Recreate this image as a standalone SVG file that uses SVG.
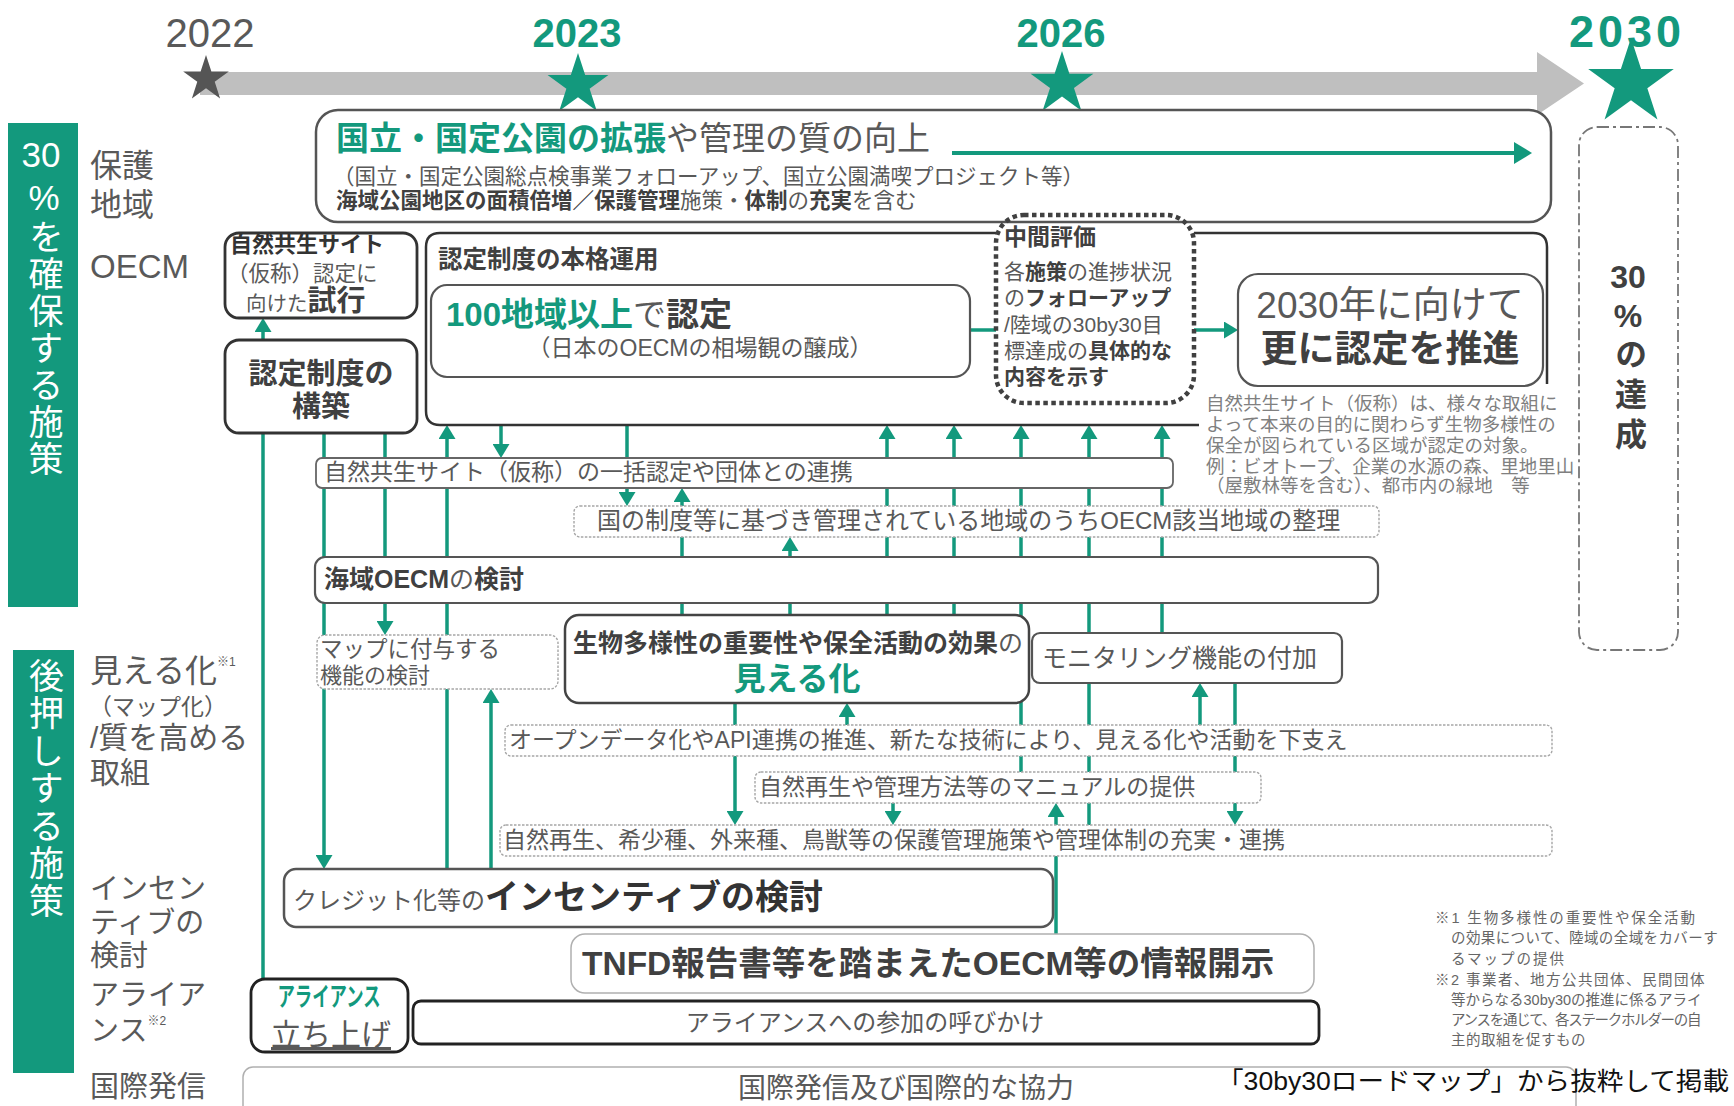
<svg xmlns="http://www.w3.org/2000/svg" width="1734" height="1106" viewBox="0 0 1734 1106">
<defs>
<style>
text{font-family:"Liberation Sans","Noto Sans CJK JP",sans-serif;fill:#595959}
.b{font-weight:700;fill:#404040}
.gr{font-weight:700;fill:#13997d}
.wt{fill:#fff;font-size:35px}
.vt{writing-mode:vertical-rl}
.bx{fill:#fff;stroke:#555;stroke-width:2.2}
.bxk{fill:#fff;stroke:#333;stroke-width:2.8}
.bxl{fill:#fff;stroke:#a6a6a6;stroke-width:1.4;stroke-dasharray:2.5 1.5}
.cn{fill:none;stroke:#13997d;stroke-width:3.5}
.ar{marker-end:url(#ah)}
.lb{font-size:29px}
.note{font-size:18.5px;fill:#808080}
.fn{font-size:14.5px;fill:#666}
.yr{text-anchor:middle}
</style>
<marker id="ah" viewBox="0 0 14 17" refX="10" refY="8.5" markerWidth="14" markerHeight="17" markerUnits="userSpaceOnUse" orient="auto"><path d="M0,0 L14,8.5 L0,17 Z" fill="#13997d"/></marker>
<marker id="ah2" viewBox="0 0 18 22" refX="14" refY="11" markerWidth="18" markerHeight="22" markerUnits="userSpaceOnUse" orient="auto"><path d="M0,0 L18,11 L0,22 Z" fill="#13997d"/></marker>
<path id="star" d="M0,-100 L22.45,-30.9 L95.1,-30.9 L36.3,11.8 L58.8,80.9 L0,38.2 L-58.8,80.9 L-36.3,11.8 L-95.1,-30.9 L-22.45,-30.9 Z"/>
</defs>
<rect width="1734" height="1106" fill="#fff"/>

<g id="timeline">
<path d="M200,72 H1537 V52 L1584,83.5 L1537,115 V95 H200 Z" fill="#bfbfbf"/>
<text class="yr" x="210" y="47" font-size="40">2022</text>
<text class="yr gr" x="577" y="47" font-size="40">2023</text>
<text class="yr gr" x="1061" y="47" font-size="40">2026</text>
<text class="yr gr" x="1627" y="47" font-size="45" letter-spacing="4">2030</text>
<use href="#star" transform="translate(206,79) scale(0.24)" fill="#555"/>
<use href="#star" transform="translate(578,85) scale(0.32)" fill="#13997d"/>
<use href="#star" transform="translate(1062,84) scale(0.33)" fill="#13997d"/>
<use href="#star" transform="translate(1631,83) scale(0.45)" fill="#13997d"/>
</g>

<g id="section-secure">
<rect x="8" y="123" width="70" height="484" fill="#13997d"/>
<text class="wt yr" x="41" y="167" font-size="34">30</text>
<text class="wt yr" x="44" y="210" font-size="34">%</text>
<text class="wt vt" x="43" y="219" letter-spacing="2">を確保する施策</text>
</g>
<g id="section-support">
<rect x="13" y="650" width="61" height="423" fill="#13997d"/>
<text class="wt vt" x="43.5" y="658" letter-spacing="2.5">後押しする施策</text>
</g>

<g id="row-labels">
<text font-size="32"><tspan x="90" y="177">保護</tspan><tspan x="90" y="216">地域</tspan></text>
<text x="90" y="278" font-size="33">OECM</text>
<text font-size="30"><tspan x="90" y="682" font-size="32">見える化</tspan><tspan font-size="12" dy="-16">※1</tspan><tspan x="89" y="715" font-size="23">（マップ化）</tspan><tspan x="90" y="748">/質を高める</tspan><tspan x="90" y="783">取組</tspan></text>
<text class="lb"><tspan x="90" y="899">インセン</tspan><tspan x="90" y="933">ティブの</tspan><tspan x="90" y="966">検討</tspan></text>
<text class="lb"><tspan x="90" y="1005">アライア</tspan><tspan x="90" y="1041">ンス</tspan><tspan font-size="12" dy="-16">※2</tspan></text>
<text class="lb" x="90" y="1097">国際発信</text>
</g>

<g id="connectors">
<path class="cn" d="M263,433 V979"/>
<path class="cn ar" d="M263,340 V322"/>
<path class="cn ar" d="M324,433 V865"/>
<path class="cn ar" d="M385,433 V631"/>
<path class="cn ar" d="M447,869 V429"/>
<path class="cn ar" d="M491,869 V693"/>
<path class="cn ar" d="M501,425 V454"/>
<path class="cn ar" d="M627,425 V502"/>
<path class="cn ar" d="M682,615 V492"/>
<path class="cn ar" d="M790,615 V541"/>
<path class="cn ar" d="M887,615 V429"/>
<path class="cn ar" d="M954,615 V429"/>
<path class="cn ar" d="M1021,772 V429"/>
<path class="cn ar" d="M1089,825 V429"/>
<path class="cn ar" d="M1162,633 V429"/>
<path class="cn ar" d="M1200,725 V687"/>
<path class="cn ar" d="M1235,683 V821"/>
<path class="cn ar" d="M735,703 V821"/>
<path class="cn ar" d="M847,725 V707"/>
<path class="cn ar" d="M893,803 V821"/>
<path class="cn ar" d="M1056,934 V807"/>
<path class="cn" d="M970,330 H996"/>
<path class="cn ar" d="M1194,330 H1234"/>
</g>

<g id="n-protected">
<rect x="316" y="110" width="1235" height="112" rx="22" fill="#fff" stroke="#555" stroke-width="2.5"/>
<path d="M952,153 H1528" stroke="#13997d" stroke-width="4" fill="none" marker-end="url(#ah2)"/>
<text font-size="21.5"><tspan x="336" y="150" font-size="33"><tspan class="gr">国立・国定公園の拡張</tspan>や管理の質の向上</tspan><tspan x="333" y="184">（国立・国定公園総点検事業フォローアップ、国立公園満喫プロジェクト等）</tspan><tspan x="336" y="208"><tspan class="b">海域公園地区の面積倍増／保護管理</tspan>施策・<tspan class="b">体制</tspan>の<tspan class="b">充実</tspan>を含む</tspan></text>
</g>

<g id="n-target30">
<rect x="1579" y="127" width="99" height="523" rx="18" fill="none" stroke="#777" stroke-width="1.8" stroke-dasharray="12 4 3 4"/>
<text class="b yr" x="1628" y="288" font-size="32">30</text>
<text class="b yr" x="1628" y="327" font-size="32">%</text>
<text class="b vt" x="1628" y="338" font-size="32" letter-spacing="8">の達成</text>
</g>

<g id="n-trial">
<rect class="bxk" x="225" y="233" width="192" height="85" rx="14"/>
<text><tspan x="230" y="252" font-size="22" class="b" style="fill:#333">自然共生サイト</tspan><tspan x="227" y="281" font-size="21.5">（仮称）認定に</tspan><tspan x="246" y="311" font-size="20.5">向けた<tspan class="b" font-size="29">試行</tspan></tspan></text>
</g>

<g id="n-build">
<rect class="bxk" x="225" y="340" width="192" height="93" rx="14"/>
<text class="b yr" font-size="29"><tspan x="321" y="384">認定制度の</tspan><tspan x="321" y="417">構築</tspan></text>
</g>

<g id="n-oecm">
<path d="M1199,425 H440 Q426,425 426,411 V247 Q426,233 440,233 H996 M1194,233 H1533 Q1547,233 1547,247 V384" fill="none" stroke="#333" stroke-width="2.5"/>
<text class="b" x="438" y="268" font-size="24.5">認定制度の本格運用</text>
</g>

<g id="n-100">
<rect class="bx" x="431" y="285" width="539" height="92" rx="16"/>
<text><tspan x="446" y="326" font-size="33"><tspan class="gr">100地域以上</tspan>で<tspan class="b">認定</tspan></tspan><tspan x="700" y="356" font-size="23" text-anchor="middle">（日本のOECMの相場観の醸成）</tspan></text>
</g>

<g id="n-midterm">
<rect x="996" y="215" width="198" height="188" rx="28" fill="none" stroke="#404040" stroke-width="4.5" stroke-dasharray="4.5 3.5"/>
<text font-size="21"><tspan x="1004" y="245" class="b" font-size="23">中間評価</tspan><tspan x="1004" y="279">各<tspan class="b">施策</tspan>の進捗状況</tspan><tspan x="1004" y="305">の<tspan class="b">フォローアップ</tspan></tspan><tspan x="1004" y="332">/陸域の30by30目</tspan><tspan x="1004" y="358">標達成の<tspan class="b">具体的な</tspan></tspan><tspan x="1004" y="384" class="b">内容を示す</tspan></text>
</g>

<g id="n-2030">
<rect class="bx" x="1238" y="274" width="305" height="112" rx="20"/>
<text class="yr" font-size="37"><tspan x="1390" y="318">2030年に向けて</tspan><tspan x="1390" y="362" class="b">更に認定を推進</tspan></text>
</g>

<g id="n-note">
<text class="note"><tspan x="1206" y="410">自然共生サイト（仮称）は、様々な取組に</tspan><tspan x="1206" y="431">よって本来の目的に関わらず生物多様性の</tspan><tspan x="1206" y="452">保全が図られている区域が認定の対象。</tspan><tspan x="1206" y="473">例：ビオトープ、企業の水源の森、里地里山</tspan><tspan x="1206" y="492">（屋敷林等を含む）、都市内の緑地　等</tspan></text>
</g>

<g id="n-bulk">
<rect x="316" y="458" width="857" height="30" rx="6" fill="#fff" stroke="#666" stroke-width="1.8"/>
<text x="324" y="480" font-size="23">自然共生サイト（仮称）の一括認定や団体との連携</text>
</g>

<g id="n-national">
<rect class="bxl" x="574" y="506" width="805" height="31" rx="6"/>
<text x="597" y="529" font-size="24">国の制度等に基づき管理されている地域のうちOECM該当地域の整理</text>
</g>

<g id="n-marine">
<rect class="bx" x="315" y="557" width="1063" height="46" rx="10"/>
<text x="324" y="588" font-size="25"><tspan class="b">海域OECM</tspan>の<tspan class="b">検討</tspan></text>
</g>

<g id="n-mapfunc">
<rect class="bxl" x="317" y="635" width="241" height="54" rx="8"/>
<text><tspan x="320" y="657" font-size="22.5">マップに付与する</tspan><tspan x="320" y="683" font-size="22">機能の検討</tspan></text>
</g>

<g id="n-visual">
<rect x="565" y="615" width="464" height="88" rx="14" fill="#fff" stroke="#444" stroke-width="2.5"/>
<text><tspan x="573" y="652" font-size="25"><tspan class="b">生物多様性の重要性や保全活動の効果</tspan>の</tspan><tspan class="gr" x="797" y="690" font-size="32" text-anchor="middle">見える化</tspan></text>
</g>

<g id="n-monitor">
<rect class="bx" x="1032" y="633" width="310" height="50" rx="8"/>
<text x="1042" y="667" font-size="25">モニタリング機能の付加</text>
</g>

<g id="n-opendata">
<rect class="bxl" x="505" y="725" width="1047" height="31" rx="6"/>
<text x="509" y="748" font-size="23">オープンデータ化やAPI連携の推進、新たな技術により、見える化や活動を下支え</text>
</g>

<g id="n-manual">
<rect class="bxl" x="755" y="772" width="506" height="31" rx="6"/>
<text x="759" y="795" font-size="23">自然再生や管理方法等のマニュアルの提供</text>
</g>

<g id="n-conservation">
<rect class="bxl" x="500" y="825" width="1052" height="31" rx="6"/>
<text x="503" y="848" font-size="23">自然再生、希少種、外来種、鳥獣等の保護管理施策や管理体制の充実・連携</text>
</g>

<g id="n-credit">
<rect x="284" y="869" width="769" height="58" rx="12" fill="#fff" stroke="#555" stroke-width="2.5"/>
<text x="293" y="909" font-size="24">クレジット化等の<tspan class="b" font-size="34" style="fill:#333">インセンティブの検討</tspan></text>
</g>

<g id="n-tnfd">
<rect x="571" y="934" width="743" height="59" rx="14" fill="#fff" stroke="#b0b0b0" stroke-width="1.5"/>
<text class="b" x="582" y="975" font-size="33.5">TNFD報告書等を踏まえたOECM等の情報開示</text>
</g>

<g id="n-alliance">
<rect x="251" y="979" width="157" height="73" rx="14" fill="#fff" stroke="#222" stroke-width="2.8"/>
<text class="yr"><tspan class="gr" x="329" y="1006" font-size="26" textLength="103" lengthAdjust="spacingAndGlyphs">アライアンス</tspan><tspan x="331" y="1045" font-size="30" text-decoration="underline">立ち上げ</tspan></text>
</g>

<g id="n-call">
<rect x="413" y="1001" width="906" height="43" rx="8" fill="#fff" stroke="#222" stroke-width="2.8"/>
<text class="yr" x="865" y="1031" font-size="24">アライアンスへの参加の呼びかけ</text>
</g>

<g id="n-intl">
<rect x="243" y="1067" width="1333" height="60" rx="10" fill="#fff" stroke="#b0b0b0" stroke-width="1.5"/>
<text x="738" y="1098" font-size="28">国際発信及び国際的な協力</text>
</g>

<g id="footnotes">
<text class="fn"><tspan x="1435" y="923" letter-spacing="1.9">※1 生物多様性の重要性や保全活動</tspan><tspan x="1451" y="943" letter-spacing="0.4">の効果について、陸域の全域をカバーす</tspan><tspan x="1451" y="964" letter-spacing="2">るマップの提供</tspan><tspan x="1435" y="985" letter-spacing="1.5">※2 事業者、地方公共団体、民間団体</tspan><tspan x="1451" y="1005" letter-spacing="0">等からなる30by30の推進に係るアライ</tspan><tspan x="1451" y="1025" letter-spacing="-1.3">アンスを通じて、各ステークホルダーの自</tspan><tspan x="1451" y="1045" letter-spacing="0.5">主的取組を促すもの</tspan></text>
</g>

<g id="credit">
<text x="1217" y="1090" font-size="25" style="fill:#111" textLength="512" lengthAdjust="spacingAndGlyphs">「30by30ロードマップ」から抜粋して掲載</text>
</g>
</svg>
